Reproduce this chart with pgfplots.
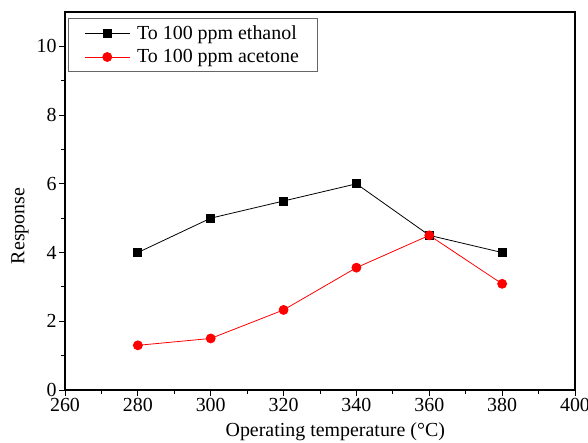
\documentclass[border=0pt]{standalone}
\usepackage{pgfplots}
\pgfplotsset{compat=1.18}
\usepackage{fontspec}
\setmainfont{Liberation Serif}

\begin{document}
\begin{tikzpicture}
\useasboundingbox (-65bp,-53bp) rectangle (523bp,390bp);
\begin{axis}[
  at={(0,0)}, anchor=origin,
  scale only axis,
  width=510bp, height=378bp,
  xmin=260, xmax=400, ymin=0, ymax=11,
  xtick={260,280,...,400},
  ytick={0,2,...,10},
  minor xtick={270,290,...,390},
  minor ytick={1,3,...,9},
  tick align=outside,
  tick pos=left,
  major tick length=6bp,
  minor tick length=3.5bp,
  every tick/.style={black, line width=0.9pt},
  axis line style={black, line width=1.1pt},
  /pgf/number format/assume math mode=true,
  /pgf/number format/1000 sep={},
  ticklabel style={font=\fontsize{20}{22}\selectfont},
  yticklabel style={xshift=1bp},
  xticklabel style={yshift=1bp},
  xlabel={Operating temperature (\textdegree C)},
  ylabel={Response},
  label style={font=\fontsize{20}{22}\selectfont},
  xlabel style={at={(axis description cs:0.53,0)}, anchor=base, yshift=-46bp},
  ylabel style={at={(axis description cs:0,0.434)}, anchor=center, yshift=45bp},
  legend style={
    at={(0.006,0.984)}, anchor=north west,
    draw=gray!80!black, line width=0.6pt,
    font=\fontsize{20}{22}\selectfont,
    inner xsep=16bp, inner ysep=5bp,
    row sep=5bp,
    cells={anchor=west},
    /tikz/every odd column/.append style={column sep=5bp},
  },
  legend image code/.code={
    \draw[#1] (0bp,0bp) -- (45bp,0bp);
    \draw[#1, mark repeat=2, mark phase=2] plot coordinates {(0bp,0bp) (22.5bp,0bp) (45bp,0bp)};
  },
]
\addplot[black, line width=0.8pt, mark=square*, mark size=4bp,
  mark options={solid}] coordinates {
  (280,4.0) (300,5.0) (320,5.5) (340,6.0) (360,4.5) (380,4.0)
};
\addlegendentry{To 100 ppm ethanol}
\addplot[red, line width=0.8pt, mark=*, mark size=4.5bp,
  mark options={solid, fill=red}] coordinates {
  (280,1.3) (300,1.5) (320,2.33) (340,3.56) (360,4.5) (380,3.09)
};
\addlegendentry{To 100 ppm acetone}
\end{axis}
\end{tikzpicture}
\end{document}
